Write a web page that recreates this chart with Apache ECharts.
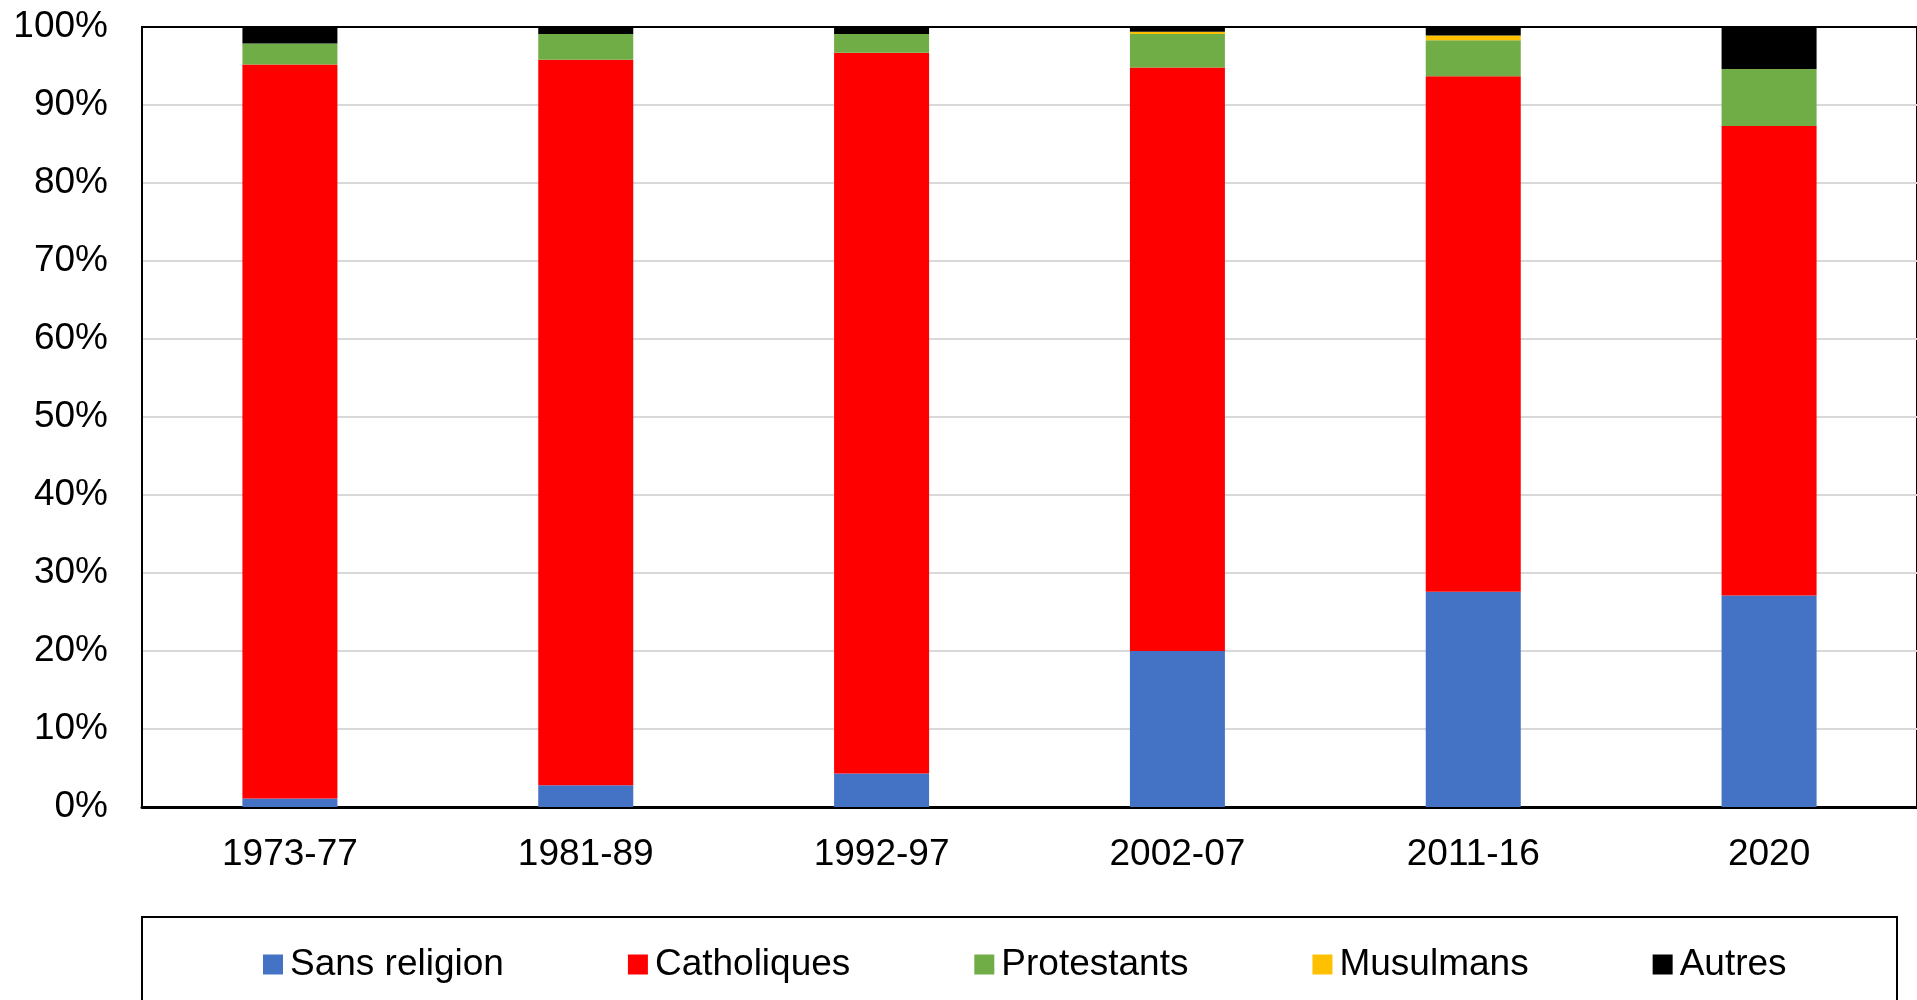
<!DOCTYPE html>
<html>
<head>
<meta charset="utf-8">
<script src="https://cdn.jsdelivr.net/npm/echarts@6/dist/echarts.min.js"></script>
<style>
  html, body { margin: 0; padding: 0; background: #fff; }
  #chart { width: 1917px; height: 1000px; }
</style>
</head>
<body>
<div id="chart"></div>
<script>
// periods on the x axis
const periods = ['1973-77', '1981-89', '1992-97', '2002-07', '2011-16', '2020'];

// shares in %
const sansReligion = [1.1, 2.8, 4.3, 20.0, 27.6, 27.1];
const catholiques  = [94.1, 93.0, 92.4, 74.8, 66.1, 60.2];
const protestants  = [2.7, 3.3, 2.4, 4.3, 4.6, 7.3];
const musulmans    = [0, 0, 0, 0.3, 0.6, 0];
const autres       = [2.1, 0.9, 0.9, 0.6, 1.1, 5.4];

const yTicks = [0, 10, 20, 30, 40, 50, 60, 70, 80, 90, 100];

const font = '"Liberation Sans", Arial, sans-serif';

const seriesDefs = [
  { name: 'Sans religion', data: sansReligion, color: '#4472C4' },
  { name: 'Catholiques', data: catholiques, color: '#FF0000' },
  { name: 'Protestants', data: protestants, color: '#70AD47' },
  { name: 'Musulmans', data: musulmans, color: '#FFC000' },
  { name: 'Autres', data: autres, color: '#000000' }
];

const chart = echarts.init(document.getElementById('chart'));

const option = {
  animation: false,
  textStyle: { fontFamily: font },
  grid: {
    left: 142,
    right: -6,
    top: 27,
    bottom: 193,
    show: true,
    borderColor: '#000',
    borderWidth: 2
  },
  legend: {
    left: 263,
    top: 946,
    padding: 0,
    itemWidth: 20,
    itemHeight: 20,
    itemGap: 124,
    icon: 'rect',
    data: seriesDefs.map(s => s.name),
    textStyle: { fontSize: 37, color: '#000', fontFamily: font, padding: [0, 0, 0, 2] }
  },
  graphic: [
    {
      type: 'rect',
      shape: { x: 142, y: 917, width: 1755, height: 120 },
      style: { fill: 'none', stroke: '#000', lineWidth: 2 },
      silent: true
    }
  ],
  xAxis: {
    type: 'category',
    data: periods,
    axisLine: { lineStyle: { color: '#000', width: 3 } },
    axisTick: { show: false },
    axisLabel: { fontSize: 37, color: '#000', margin: 29, fontFamily: font }
  },
  yAxis: {
    type: 'value',
    min: yTicks[0],
    max: yTicks[yTicks.length - 1],
    interval: 10,
    axisLine: { show: true, lineStyle: { color: '#000', width: 2 } },
    axisTick: { show: false },
    axisLabel: { fontSize: 37, color: '#000', margin: 34, formatter: '{value}%', fontFamily: font },
    splitLine: { showMaxLine: false, lineStyle: { color: '#d9d9d9', width: 2 } }
  },
  series: seriesDefs.map(s => ({
    name: s.name,
    type: 'bar',
    stack: 'total',
    barWidth: 95,
    data: s.data,
    itemStyle: { color: s.color }
  }))
};

chart.setOption(option);
</script>
</body>
</html>
